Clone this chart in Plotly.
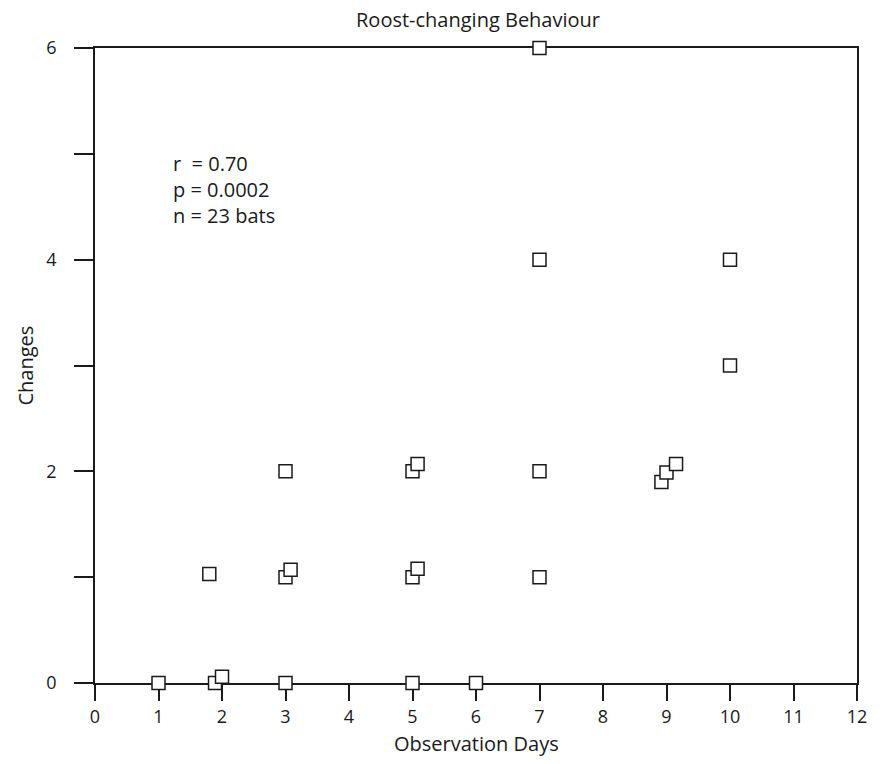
import plotly.graph_objects as go

days = [1, 1.8, 1.89, 2.0, 3, 3, 3.08, 3, 5, 5, 5.08, 5, 5.08, 6, 7, 7, 7, 7, 8.92, 9.0, 9.15, 10, 10]
changes = [0, 1.03, 0, 0.06, 0, 1.0, 1.07, 2, 0, 1.0, 1.08, 2.0, 2.07, 0, 6, 4, 2, 1, 1.9, 1.99, 2.07, 4, 3]
x_ticks = list(range(0, 13))
y_ticks = [0, 1, 2, 3, 4, 5, 6]
y_ticktext = ["0", "", "2", "", "4", "", "6"]
stats_lines = ["r  = 0.70", "p = 0.0002", "n = 23 bats"]
x_title = "Observation Days"
y_title = "Changes"
chart_title = "Roost-changing Behaviour"

FONT = "Open Sans"
INK = "#1a1a1a"

fig = go.Figure()
fig.add_trace(go.Scatter(
    x=days, y=changes, mode="markers", cliponaxis=False,
    marker=dict(symbol="square", size=13, color="white",
                line=dict(color=INK, width=1.5)),
    hoverinfo="x+y", showlegend=False,
))

for i, t in enumerate(stats_lines):
    fig.add_annotation(x=1.2, y=4.91 - i * 0.245, xref="x", yref="y",
                       text=t, showarrow=False, xanchor="left", yanchor="middle",
                       font=dict(family=FONT, size=20, color=INK))

W, H = 883, 764
L, R, T, B = 95, 26, 48, 81
pw, ph = W - L - R, H - T - B

# axis titles placed as annotations for exact positioning
fig.add_annotation(x=0.5, y=-(743 - (H - B)) / ph, xref="paper", yref="paper",
                   text=x_title, showarrow=False, xanchor="center", yanchor="middle",
                   font=dict(family=FONT, size=20, color=INK))
fig.add_annotation(x=-(L - 25) / pw, y=0.5, xref="paper", yref="paper",
                   text=y_title, showarrow=False, textangle=-90,
                   xanchor="center", yanchor="middle",
                   font=dict(family=FONT, size=20, color=INK))

fig.update_layout(
    width=W, height=H,
    margin=dict(l=L, r=R, t=T, b=B),
    paper_bgcolor="white", plot_bgcolor="white",
    font=dict(family=FONT, size=20, color=INK),
    title=dict(text=chart_title, x=478 / W, xanchor="center",
               y=1 - 20 / H, yanchor="middle",
               font=dict(family=FONT, size=20, color=INK)),
    xaxis=dict(range=[0, 12], tickvals=x_ticks, ticks="outside", ticklen=16,
               tickwidth=1.5, tickcolor=INK, showline=True, linecolor=INK,
               linewidth=1.5, mirror=True, showgrid=False, zeroline=False,
               layer="below traces", ticklabelstandoff=1,
               tickfont=dict(family=FONT, size=18, color=INK)),
    yaxis=dict(range=[0, 6], tickvals=y_ticks, ticktext=y_ticktext,
               ticks="outside", ticklen=19, tickwidth=1.5, tickcolor=INK,
               showline=True, linecolor=INK, linewidth=1.5, mirror=True,
               showgrid=False, zeroline=False, layer="below traces",
               ticklabelstandoff=14,
               tickfont=dict(family=FONT, size=18, color=INK)),
)

# remove the browser's default 8px body margin so the figure fills the window exactly
fig.write_html("out.html", config={"displayModeBar": False},
               post_script="document.body.style.margin='0';")
